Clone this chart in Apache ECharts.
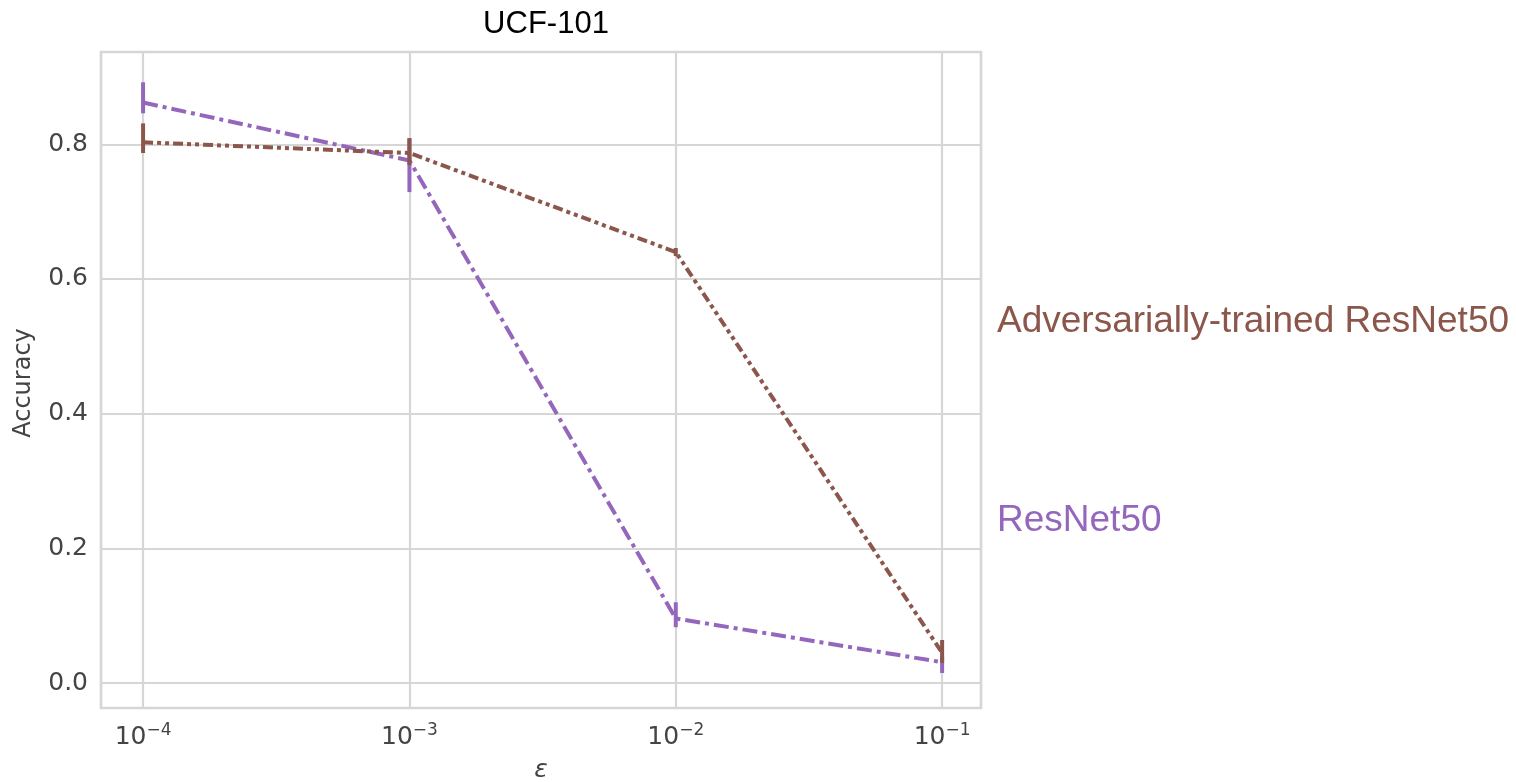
<!DOCTYPE html>
<html>
<head>
<meta charset="utf-8">
<title>UCF-101</title>
<script src="https://cdn.jsdelivr.net/npm/echarts@6/dist/echarts.min.js"></script>
<style>
  html, body { margin: 0; padding: 0; background: #fff; }
  #chart { width: 1516px; height: 782px; }
</style>
</head>
<body>
<div id="chart"></div>
<script>
// Perturbation budgets (x axis, log scale)
const epsilons = [1e-4, 1e-3, 1e-2, 1e-1];

// ResNet50: mean accuracy and error-bar range
const resnetMean = [0.862, 0.776, 0.096, 0.031];
const resnetLow  = [0.846, 0.729, 0.083, 0.015];
const resnetHigh = [0.892, 0.809, 0.120, 0.040];

// Adversarially-trained ResNet50
const advMean = [0.803, 0.787, 0.640, 0.045];
const advLow  = [0.787, 0.769, 0.634, 0.030];
const advHigh = [0.831, 0.809, 0.646, 0.064];

const yTicks = [0.0, 0.2, 0.4, 0.6, 0.8];

const PURPLE = '#9467bd';
const BROWN = '#8c564b';
const GRID = '#d6d6d6';
const TICK = '#444444';

function pairs(xs, ys) { return xs.map((x, i) => [x, ys[i]]); }
function bars(xs, lo, hi) { return xs.map((x, i) => [x, lo[i], hi[i]]); }

function errorBarSeries(data, color, z) {
  return {
    type: 'custom',
    data: data,
    z: z,
    silent: true,
    encode: { x: 0, y: [1, 2] },
    renderItem: function (params, api) {
      const a = api.coord([api.value(0), api.value(1)]);
      const b = api.coord([api.value(0), api.value(2)]);
      return {
        type: 'line',
        shape: { x1: a[0], y1: a[1], x2: b[0], y2: b[1] },
        style: { stroke: color, lineWidth: 4 }
      };
    }
  };
}

const chart = echarts.init(document.getElementById('chart'), null, { renderer: 'canvas' });
chart.setOption({
  animation: false,
  backgroundColor: '#ffffff',
  title: {
    text: 'UCF-101',
    left: 541,
    top: 4,
    textAlign: 'center',
    textStyle: { fontFamily: 'Liberation Sans', fontSize: 31, fontWeight: 'normal', color: '#000' }
  },
  grid: {
    left: 101, right: 535, top: 52, bottom: 74,
    outerBoundsMode: 'none',
    containLabel: false,
    show: true, borderColor: GRID, borderWidth: 2.5, backgroundColor: '#fff'
  },
  xAxis: {
    type: 'log',
    logBase: 10,
    min: Math.pow(10, -4.158),
    max: Math.pow(10, -0.854),
    name: '\u03b5',
    nameLocation: 'middle',
    nameGap: 50,
    nameTextStyle: { fontFamily: 'DejaVu Sans', fontStyle: 'italic', fontSize: 25, color: TICK },
    axisLine: { show: false },
    axisTick: { show: false },
    splitLine: { show: true, lineStyle: { color: GRID, width: 2.2 } },
    axisLabel: {
      showMinLabel: false,
      showMaxLabel: false,
      margin: 14,
      formatter: function (v) {
        const e = Math.log10(v);
        const r = Math.round(e);
        if (Math.abs(e - r) > 1e-6) return '';
        return '{b|10}{s|' + String(r).replace('-', '\u2212') + '}';
      },
      rich: {
        b: { fontFamily: 'DejaVu Sans', fontSize: 25, color: TICK },
        s: { fontFamily: 'DejaVu Sans', fontSize: 17, color: TICK, padding: [0, 0, 14, 0] }
      }
    }
  },
  yAxis: {
    type: 'value',
    min: -0.037,
    max: 0.937,
    axisLine: { show: false },
    axisTick: { show: false },
    splitLine: { show: true, lineStyle: { color: GRID, width: 2.2 } },
    axisLabel: {
      showMinLabel: false,
      showMaxLabel: false,
      margin: 13,
      fontFamily: 'DejaVu Sans',
      fontSize: 25,
      color: TICK,
      formatter: function (v) {
        const t = yTicks.find(t => Math.abs(t - v) < 1e-9);
        return t === undefined ? '' : t.toFixed(1);
      }
    }
  },
  graphic: [
    {
      type: 'text',
      x: 24, y: 383,
      rotation: Math.PI / 2,
      style: {
        text: 'Accuracy',
        fontFamily: 'DejaVu Sans', fontSize: 24, fill: TICK,
        align: 'center', verticalAlign: 'middle'
      }
    },
    {
      type: 'text',
      x: 997, y: 322,
      style: {
        text: 'Adversarially-trained ResNet50',
        fontFamily: 'Liberation Sans', fontSize: 37, fill: BROWN,
        align: 'left', verticalAlign: 'middle'
      }
    },
    {
      type: 'text',
      x: 997, y: 521,
      style: {
        text: 'ResNet50',
        fontFamily: 'Liberation Sans', fontSize: 37, fill: PURPLE,
        align: 'left', verticalAlign: 'middle'
      }
    }
  ],
  series: [
    {
      name: 'ResNet50',
      type: 'line',
      data: pairs(epsilons, resnetMean),
      symbol: 'none',
      z: 2,
      lineStyle: { color: PURPLE, width: 4, type: [15, 5, 4, 5] }
    },
    errorBarSeries(bars(epsilons, resnetLow, resnetHigh), PURPLE, 3),
    {
      name: 'Adversarially-trained ResNet50',
      type: 'line',
      data: pairs(epsilons, advMean),
      symbol: 'none',
      z: 4,
      lineStyle: { color: BROWN, width: 4, type: [10, 4, 4, 4, 4, 4] }
    },
    errorBarSeries(bars(epsilons, advLow, advHigh), BROWN, 5)
  ]
});
</script>
</body>
</html>
